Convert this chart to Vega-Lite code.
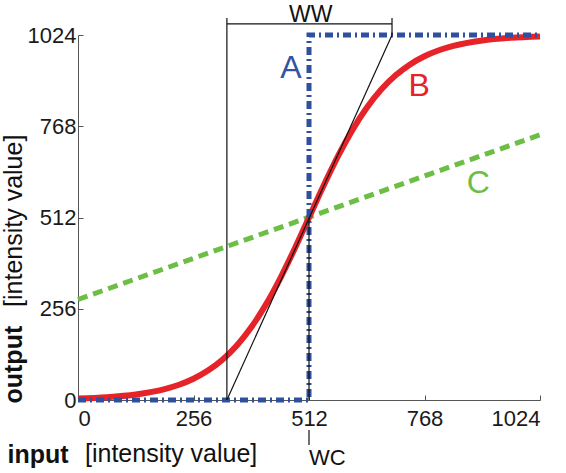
{
  "$schema": "https://vega.github.io/schema/vega-lite/v6.json",
  "width": 462,
  "height": 365,
  "autosize": {"type": "none"},
  "padding": {"left": 78, "top": 35, "right": 26, "bottom": 73},
  "background": "white",
  "datasets": {
    "A": [{"i": 0, "x": 0, "y": 0}, {"i": 1, "x": 512, "y": 0}, {"i": 2, "x": 512, "y": 1024}, {"i": 3, "x": 1024, "y": 1024}],
    "B": [
      {"x": 0, "y": 3.9}, {"x": 64, "y": 7.8}, {"x": 128, "y": 15.5}, {"x": 192, "y": 30.7}, {"x": 224, "y": 42.8},
      {"x": 256, "y": 59.6}, {"x": 288, "y": 82.5}, {"x": 320, "y": 113.0}, {"x": 352, "y": 153.0}, {"x": 384, "y": 204.0},
      {"x": 416, "y": 266.8}, {"x": 448, "y": 340.8}, {"x": 480, "y": 423.8}, {"x": 512, "y": 512}, {"x": 544, "y": 600.2},
      {"x": 576, "y": 683.2}, {"x": 608, "y": 757.2}, {"x": 640, "y": 820.0}, {"x": 672, "y": 871.0}, {"x": 704, "y": 911.0},
      {"x": 736, "y": 941.5}, {"x": 768, "y": 964.4}, {"x": 800, "y": 981.2}, {"x": 832, "y": 993.3}, {"x": 896, "y": 1008.5},
      {"x": 960, "y": 1016.2}, {"x": 1024, "y": 1020.1}
    ],
    "C": [{"x": 0, "y": 282}, {"x": 1024, "y": 744}],
    "guides": [
      {"x": 330, "y": 0, "x2": 696, "y2": 1024},
      {"x": 330, "y": 0, "x2": 330, "y2": 1072},
      {"x": 696, "y": 1024, "x2": 696, "y2": 1072},
      {"x": 330, "y": 1055, "x2": 696, "y2": 1055},
      {"x": 512, "y": 0, "x2": 512, "y2": 512},
      {"x": 512, "y": -84, "x2": 512, "y2": -126}
    ],
    "curveLabels": [
      {"label": "A", "x": 472, "y": 931},
      {"label": "B", "x": 756, "y": 881},
      {"label": "C", "x": 887, "y": 609}
    ],
    "ww": [{"label": "WW", "x": 516, "y": 1060}],
    "wc": [{"label": "WC", "x": 512, "y": -182}],
    "xtitle": [{"label": "[intensity value]", "x": 15.5, "y": -174}],
    "ytitle": [{"label": "[intensity value]", "x": -124, "y": 261}]
  },
  "encoding": {
    "x": {
      "field": "x", "type": "quantitative",
      "scale": {"domain": [0, 1024], "nice": false, "zero": false},
      "axis": {
        "values": [0, 256, 512, 768, 1024],
        "format": "d",
        "title": "input",
        "titleFontWeight": "bold",
        "titleFontSize": 25,
        "titleAnchor": "start",
        "titleAlign": "left",
        "titleBaseline": "alphabetic",
        "titleX": -71,
        "titleY": 62,
        "labelPadding": 13
      }
    },
    "y": {
      "field": "y", "type": "quantitative",
      "scale": {"domain": [0, 1024], "nice": false, "zero": false},
      "axis": {
        "values": [0, 256, 512, 768, 1024],
        "format": "d",
        "title": "output",
        "titleFontWeight": "bold",
        "titleFontSize": 25,
        "titleAngle": 270,
        "titleAlign": "left",
        "titleBaseline": "alphabetic",
        "titleX": -57,
        "titleY": 368,
        "labelPadding": 7
      }
    }
  },
  "layer": [
    {"data": {"name": "C"}, "mark": {"type": "line", "color": "#6DBE45", "strokeWidth": 5, "strokeDash": [10, 6], "strokeCap": "butt"}},
    {"data": {"name": "B"}, "mark": {"type": "line", "color": "#E52329", "strokeWidth": 6, "interpolate": "monotone"}},
    {"data": {"name": "A"}, "mark": {"type": "line", "color": "#2F4F9F", "strokeWidth": 5, "strokeDash": [8, 4, 2, 4], "strokeCap": "butt"},
     "encoding": {"order": {"field": "i", "type": "quantitative"}}},
    {"data": {"name": "guides"}, "mark": {"type": "rule", "color": "#111111", "strokeWidth": 1.2},
     "encoding": {"x2": {"field": "x2"}, "y2": {"field": "y2"}}},
    {"data": {"name": "curveLabels"}, "mark": {"type": "text", "font": "Liberation Sans", "fontSize": 32, "align": "center", "baseline": "middle"},
     "encoding": {"text": {"field": "label"},
       "color": {"field": "label", "type": "nominal", "scale": {"domain": ["A", "B", "C"], "range": ["#3353A3", "#E52329", "#6DBE45"]}, "legend": null}}},
    {"data": {"name": "ww"}, "mark": {"type": "text", "font": "Liberation Sans", "fontSize": 23, "align": "center", "baseline": "alphabetic", "color": "#111111"},
     "encoding": {"text": {"field": "label"}}},
    {"data": {"name": "wc"}, "mark": {"type": "text", "font": "Liberation Sans", "fontSize": 22, "align": "left", "baseline": "alphabetic", "color": "#111111"},
     "encoding": {"text": {"field": "label"}}},
    {"data": {"name": "xtitle"}, "mark": {"type": "text", "font": "Liberation Sans", "fontSize": 25, "align": "left", "baseline": "alphabetic", "color": "#111111"},
     "encoding": {"text": {"field": "label"}}},
    {"data": {"name": "ytitle"}, "mark": {"type": "text", "font": "Liberation Sans", "fontSize": 25, "align": "left", "baseline": "alphabetic", "angle": 270, "color": "#111111"},
     "encoding": {"text": {"field": "label"}}}
  ],
  "config": {
    "view": {"stroke": null},
    "font": "Liberation Sans",
    "axis": {
      "grid": false,
      "domainColor": "#555555",
      "tickColor": "#555555",
      "tickSize": -5,
      "labelFont": "Liberation Sans",
      "labelFontSize": 22,
      "labelColor": "#1a1a1a",
      "titleFont": "Liberation Sans",
      "titleColor": "#111111"
    }
  }
}
